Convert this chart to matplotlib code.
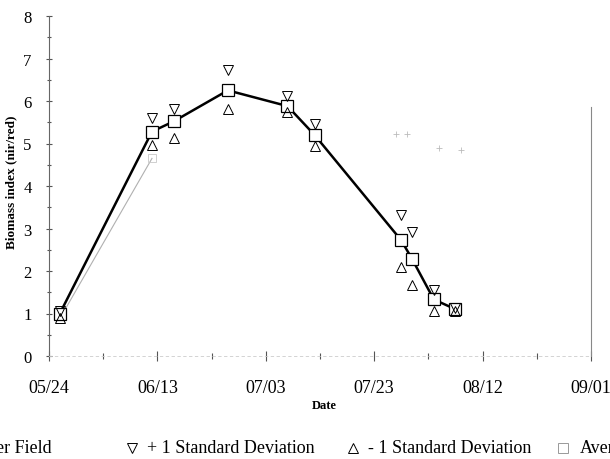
import matplotlib
matplotlib.use("Agg")
import matplotlib.pyplot as plt
from matplotlib.lines import Line2D
import datetime as dt

plt.rcParams['font.family'] = ['Liberation Serif', 'DejaVu Serif']

# ---- data ----
dates = ["2000-05-26", "2000-06-12", "2000-06-16", "2000-06-26", "2000-07-07",
         "2000-07-12", "2000-07-28", "2000-07-30", "2000-08-03", "2000-08-07"]
average = [1.00, 5.28, 5.52, 6.25, 5.88, 5.20, 2.72, 2.28, 1.33, 1.10]
plus_sd = [1.05, 5.60, 5.82, 6.72, 6.12, 5.45, 3.32, 2.92, 1.55, 1.12]
minus_sd = [0.90, 4.96, 5.12, 5.82, 5.74, 4.94, 2.10, 1.66, 1.06, 1.05]
other_dates = ["2000-05-26", "2000-06-12"]
other_field = [0.88, 4.65]
faint_dates = ["2000-07-27", "2000-07-29", "2000-08-04", "2000-08-08"]
faint_vals = [5.22, 5.22, 4.90, 4.85]

xticks = ["2000-05-24", "2000-06-13", "2000-07-03", "2000-07-23", "2000-08-12", "2000-09-01"]
xtick_labels = ["05/24", "06/13", "07/03", "07/23", "08/12", "09/01"]
yticks = [0, 1, 2, 3, 4, 5, 6, 7, 8]

to_d = lambda s: dt.datetime.strptime(s, "%Y-%m-%d")
d = [to_d(s) for s in dates]
od = [to_d(s) for s in other_dates]
fd = [to_d(s) for s in faint_dates]
xt = [to_d(s) for s in xticks]

fig = plt.figure(figsize=(6.1, 4.6), dpi=100)
ax = fig.add_axes([49/610, 103/460, (591-49)/610, (357-17)/460])

ax.plot(od, other_field, color='#b0b0b0', lw=0.8, marker='s', ms=6,
        mfc='none', mec='#c8c8c8', mew=0.6, zorder=2)
ax.plot(fd, faint_vals, linestyle='none', marker='+', ms=4, color='#bbbbbb', mew=0.6)
ax.plot(d, average, color='black', lw=1.8, marker='s', ms=8, mfc='white',
        mec='black', mew=0.9, zorder=3)
ax.plot(d, plus_sd, linestyle='none', marker='v', ms=7, mfc='none', mec='black', mew=0.7, zorder=4)
ax.plot(d, minus_sd, linestyle='none', marker='^', ms=7, mfc='none', mec='black', mew=0.7, zorder=4)

ax.set_xlim(xt[0], xt[-1])
ax.set_ylim(0, 8)
ax.set_xticks(xt)
ax.set_xticklabels(xtick_labels, fontsize=13)
ax.set_xticks([xt[0] + dt.timedelta(days=10 * i) for i in range(11)], minor=True)
ax.set_yticks(yticks)
ax.set_yticklabels([str(v) for v in yticks], fontsize=12)
ax.set_yticks([v + 0.5 for v in yticks[:-1]], minor=True)

ax.tick_params(axis='both', which='both', direction='inout', color='#555555', width=0.8)
ax.tick_params(axis='x', which='major', length=7, pad=13)
ax.tick_params(axis='x', which='minor', length=4)
ax.tick_params(axis='y', which='major', length=5, pad=10)
ax.tick_params(axis='y', which='minor', length=3)

ax.spines['top'].set_visible(False)
ax.spines['left'].set_color('#666666')
ax.spines['left'].set_linewidth(0.8)
ax.spines['bottom'].set_color('#cccccc')
ax.spines['bottom'].set_linewidth(0.6)
ax.spines['bottom'].set_linestyle((0, (3, 4)))
ax.spines['right'].set_color('#888888')
ax.spines['right'].set_linewidth(0.8)
ax.spines['right'].set_bounds(0, 5.85)

fig.text(324/610, 1 - 406/460, "Date", fontsize=9, fontweight='bold', ha='center', va='center')
fig.text(11/610, 1 - 182/460, "Biomass index (nir/red)", fontsize=9.5, fontweight='bold',
         rotation=90, ha='center', va='center')

# legend (cut off at figure edges, as in reference)
ly = 1 - 449/460
fig.text(52/610, ly, "Other Field", fontsize=13, ha='right', va='center')
entries = [
    (132, 'v', 'black', 147, "+ 1 Standard Deviation"),
    (353, '^', 'black', 368, "- 1 Standard Deviation"),
    (563, 's', '#999999', 580, "Average"),
]
for mx, mk, mc, tx, label in entries:
    fig.add_artist(Line2D([mx/610], [ly], marker=mk, ms=7, mfc='none', mec=mc,
                          mew=0.7, linestyle='none', transform=fig.transFigure))
    fig.text(tx/610, ly, label, fontsize=13, ha='left', va='center')

fig.savefig("out.png", dpi=100)
